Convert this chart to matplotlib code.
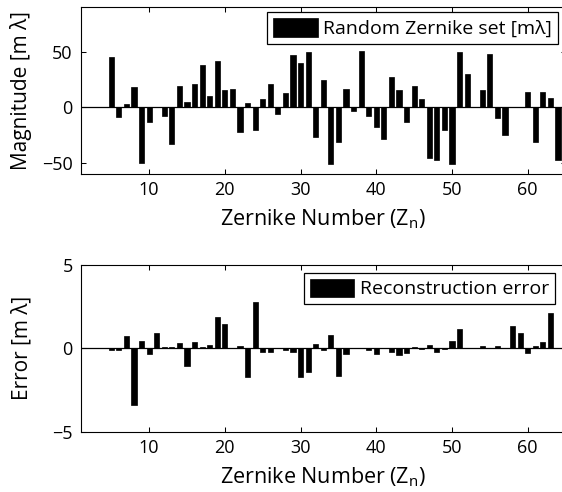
import matplotlib
matplotlib.use("Agg")
import matplotlib.pyplot as plt
import numpy as np

plt.rcParams['font.family'] = ['Open Sans', 'DejaVu Sans']
plt.rcParams['mathtext.fontset'] = 'custom'
plt.rcParams['mathtext.rm'] = 'Open Sans'
plt.rcParams['mathtext.it'] = 'Open Sans'

zernike_n = list(range(5, 65))

magnitude = [45.2, -9, 2.7, 18, -50, -13, 0.5, -8, -33, 19,
             4.5, 21, 37.7, 10, 41.6, 15.4, 16.6, -22.6, 3.6, -20.5,
             7.2, 21, -6.3, 12.7, 47.3, 39.5, 50, -26.5, 24.7, -51,
             -31.6, 16.6, -3.9, 51, -8.4, -17.8, -29, 27, 15, -13,
             19, 7.5, -46, -47.3, -20.8, -51, 49.4, 30, 0.5, 15.7,
             48, -10, -24.7, 0.4, 0.4, 13.6, -31, 13.6, 7.8, -48]

error = [-0.07, -0.07, 0.72, -3.38, 0.42, -0.34, 0.92, 0.1, 0.1, 0.34,
         -1.04, 0.36, 0.06, 0.2, 1.86, 1.48, 0.03, 0.14, -1.7, 2.76,
         -0.2, -0.24, 0.04, -0.1, -0.2, -1.74, -1.42, 0.24, -0.1, 0.78,
         -1.66, -0.34, 0.03, 0.03, -0.1, -0.36, 0.04, -0.2, -0.42, -0.3,
         0.1, -0.05, 0.22, -0.24, -0.06, 0.42, 1.16, 0.03, 0.03, 0.12,
         0.03, 0.12, 0.03, 1.36, 0.92, -0.3, 0.16, 0.38, 2.1, 0.03]

W, H = 562, 492
fig = plt.figure(figsize=(W / 100, H / 100), dpi=100)

left_px, right_px = 81, 565.5
def axes_rect(top_px, bot_px):
    return [left_px / W, 1 - bot_px / H, (right_px - left_px) / W, (bot_px - top_px) / H]

ax1 = fig.add_axes(axes_rect(7.3, 173.7))
ax2 = fig.add_axes(axes_rect(265, 431.7))

bar_w = 0.68
ax1.bar(zernike_n, magnitude, width=bar_w, color='black', edgecolor='black',
        linewidth=0.5, label='Random Zernike set [mλ]', zorder=3)
ax2.bar(zernike_n, error, width=bar_w, color='black', edgecolor='black',
        linewidth=0.5, label='Reconstruction error', zorder=3)

for ax in (ax1, ax2):
    ax.axhline(0, color='black', linewidth=0.9, zorder=2)
    ax.set_xlim(1, 65)
    ax.set_xticks([10, 20, 30, 40, 50, 60])
    ax.tick_params(direction='in', length=3.6, width=0.75, top=True, right=True,
                   labelsize=13, pad=5)
    ax.tick_params(axis='y', pad=6)
    for sp in ax.spines.values():
        sp.set_linewidth(0.8)
    ax.set_xlabel('Zernike Number (Z$_\\mathrm{n}$)', fontsize=15.5)
    ax.xaxis.set_label_coords(0.5, -0.205)

ax1.set_ylim(-60, 90)
ax1.set_yticks([-50, 0, 50])
ax1.set_ylabel('Magnitude [m λ]', fontsize=15)
ax1.yaxis.set_label_coords(-0.101, 0.5)

ax2.set_ylim(-5, 5)
ax2.set_yticks([-5, 0, 5])
ax2.set_ylabel('Error [m λ]', fontsize=15)
ax2.yaxis.set_label_coords(-0.101, 0.5)

leg_kw = dict(loc='upper right', bbox_transform=fig.transFigure, borderaxespad=0,
              fancybox=False, edgecolor='black', framealpha=1, fontsize=14,
              handlelength=2.3, handleheight=1.1, handletextpad=0.28,
              borderpad=0.3)
l1 = ax1.legend(bbox_to_anchor=(557.7 / W, 1 - 12 / H), **leg_kw)
l2 = ax2.legend(bbox_to_anchor=(555 / W, 1 - 272.7 / H), **leg_kw)
for l in (l1, l2):
    l.get_frame().set_linewidth(0.9)

fig.savefig('out.png', dpi=100)
